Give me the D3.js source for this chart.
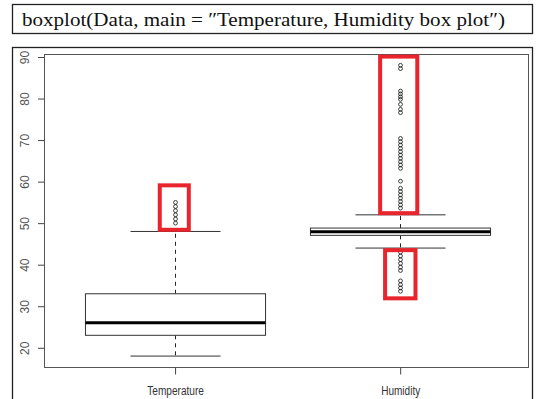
<!DOCTYPE html>
<html>
<head>
<meta charset="utf-8">
<script src="https://cdn.jsdelivr.net/npm/d3@7"></script>
<style>
  html, body { margin: 0; padding: 0; background: #fff; }
  svg { display: block; }
</style>
</head>
<body>
<svg id="chart" width="536" height="399"></svg>
<script>
// ---- data ----
const categories = ["Temperature", "Humidity"];
// five-number summaries: lower whisker, Q1, median, Q3, upper whisker
const whiskerLow  = [18, 44];
const q1          = [23, 47.06];
const medians     = [26, 47.95];
const q3          = [33, 48.82];
const whiskerHigh = [48, 52];
// points beyond the whiskers
const temperatureOutliers = [50, 51, 52, 53, 54, 55];
const humidityOutliers = [
  88, 87.2,
  81.8, 81.1, 80.4, 79.8, 78.6, 77.4, 76.6,
  70.4, 69.6, 68.8, 68.0, 67.2, 66.4, 65.6, 64.8, 64.0, 63.2,
  60.1,
  58.4, 57.6, 56.8, 56.0, 55.2, 54.4, 53.6,
  43.0, 42.1, 41.2, 40.3, 39.4, 38.6,
  36.1, 35.2, 34.4, 33.6
];
const yTicks = [20, 30, 40, 50, 60, 70, 80, 90];
// highlight frames around outlier groups: group index, value range, horizontal offsets
const highlightGroup = [0, 1, 1];
const highlightLow   = [48.4, 52.4, 31.9];
const highlightHigh  = [59.1, 90.1, 43.5];
const highlightLeft  = [-0.068, -0.089, -0.067];
const highlightRight = [0.061, 0.076, 0.068];
const titleText = "boxplot(Data, main = \u2033Temperature, Humidity box plot\u2033)";

// ---- layout ----
const svg = d3.select("#chart");
const plot = { left: 44.5, right: 528.5, top: 54.5, bottom: 367.5 };

const x = d3.scaleLinear().domain([0.42, 2.57]).range([plot.left, plot.right]);
const y = d3.scaleLinear().domain([15.25, 90.6]).range([plot.bottom, plot.top]);

const boxWidth = 0.8;
const stapleWidth = 0.4;

// title box
svg.append("rect")
  .attr("x", 12.5).attr("y", 4.5).attr("width", 520).attr("height", 29)
  .attr("fill", "none").attr("stroke", "#222").attr("stroke-width", 1.3);
svg.append("text")
  .attr("x", 22).attr("y", 26)
  .attr("font-family", "'Liberation Serif', 'DejaVu Serif', serif")
  .attr("font-size", 19)
  .attr("textLength", 483).attr("lengthAdjust", "spacingAndGlyphs")
  .attr("fill", "#111")
  .text(titleText);

// outer frame around the graphics device
svg.append("rect")
  .attr("x", 12.5).attr("y", 47.5).attr("width", 520).attr("height", 360)
  .attr("fill", "none").attr("stroke", "#222").attr("stroke-width", 1.3);

// plot region border
svg.append("rect")
  .attr("x", plot.left).attr("y", plot.top)
  .attr("width", plot.right - plot.left).attr("height", plot.bottom - plot.top)
  .attr("fill", "none").attr("stroke", "#555").attr("stroke-width", 1);

// y axis (R style: ticks outside, labels rotated)
const yAxis = d3.axisLeft(y).tickValues(yTicks).tickSize(6).tickSizeOuter(0).tickPadding(0);
const gy = svg.append("g").attr("transform", `translate(${plot.left - 0.5},0)`).call(yAxis);
gy.select(".domain").remove();
gy.selectAll(".tick line").attr("stroke", "#444");
gy.selectAll(".tick text")
  .attr("x", 0).attr("dy", null)
  .attr("transform", d => `translate(${25.3 - plot.left},0) rotate(-90)`)
  .attr("text-anchor", "middle")
  .attr("dominant-baseline", "central")
  .attr("font-family", "'Liberation Sans', Arial, sans-serif")
  .attr("font-size", 12)
  .attr("fill", "#555");

// x axis
const xAxis = d3.axisBottom(x).tickValues([1, 2]).tickFormat(d => categories[d - 1])
  .tickSize(7).tickSizeOuter(0).tickPadding(12);
const gx = svg.append("g").attr("transform", `translate(0,${plot.bottom})`).call(xAxis);
gx.select(".domain").remove();
gx.selectAll(".tick line").attr("stroke", "#444");
gx.selectAll(".tick text")
  .attr("font-family", "'Liberation Sans', Arial, sans-serif")
  .attr("font-size", 12.5)
  .attr("fill", "#333")
  .attr("textLength", d => d === 1 ? 56.6 : 39)
  .attr("lengthAdjust", "spacingAndGlyphs");

// ---- boxes ----
const groups = categories.map((c, i) => ({
  i, pos: i + 1,
  lo: whiskerLow[i], q1: q1[i], med: medians[i], q3: q3[i], hi: whiskerHigh[i]
}));

const g = svg.append("g");
groups.forEach(d => {
  const cx = Math.round(x(d.pos)) + 0.5;
  const halfBox = (x(d.pos + boxWidth / 2) - x(d.pos - boxWidth / 2)) / 2;
  const halfStaple = (x(d.pos + stapleWidth / 2) - x(d.pos - stapleWidth / 2)) / 2;
  // whiskers (dashed)
  g.append("line").attr("x1", cx).attr("x2", cx).attr("y1", y(d.q3)).attr("y2", y(d.hi))
    .attr("stroke", "#222").attr("stroke-dasharray", "4,4");
  g.append("line").attr("x1", cx).attr("x2", cx).attr("y1", y(d.q1)).attr("y2", y(d.lo))
    .attr("stroke", "#222").attr("stroke-dasharray", "4,4");
  // staples
  [d.lo, d.hi].forEach(v => {
    g.append("line").attr("x1", cx - halfStaple).attr("x2", cx + halfStaple)
      .attr("y1", y(v)).attr("y2", y(v)).attr("stroke", "#333");
  });
  // box
  g.append("rect")
    .attr("x", cx - halfBox).attr("y", y(d.q3))
    .attr("width", 2 * halfBox).attr("height", y(d.q1) - y(d.q3))
    .attr("fill", "#fff").attr("stroke", "#333");
  // median
  g.append("line").attr("x1", cx - halfBox).attr("x2", cx + halfBox)
    .attr("y1", y(d.med)).attr("y2", y(d.med))
    .attr("stroke", "#000").attr("stroke-width", 3);
});

// outliers
const outlierSets = [temperatureOutliers, humidityOutliers];
outlierSets.forEach((vals, i) => {
  const cx = Math.round(x(i + 1)) + 0.5;
  g.selectAll(null).data(vals).enter().append("circle")
    .attr("cx", cx).attr("cy", v => y(v)).attr("r", 1.9)
    .attr("fill", "none").attr("stroke", "#111").attr("stroke-width", 0.8);
});

// highlight frames
highlightGroup.forEach((gi, k) => {
  const pos = gi + 1;
  const x0 = x(pos + highlightLeft[k]), x1 = x(pos + highlightRight[k]);
  const y0 = y(highlightHigh[k]), y1 = y(highlightLow[k]);
  svg.append("rect")
    .attr("x", x0).attr("y", y0).attr("width", x1 - x0).attr("height", y1 - y0)
    .attr("fill", "none").attr("stroke", "#e8242c").attr("stroke-width", 4);
});
</script>
</body>
</html>
